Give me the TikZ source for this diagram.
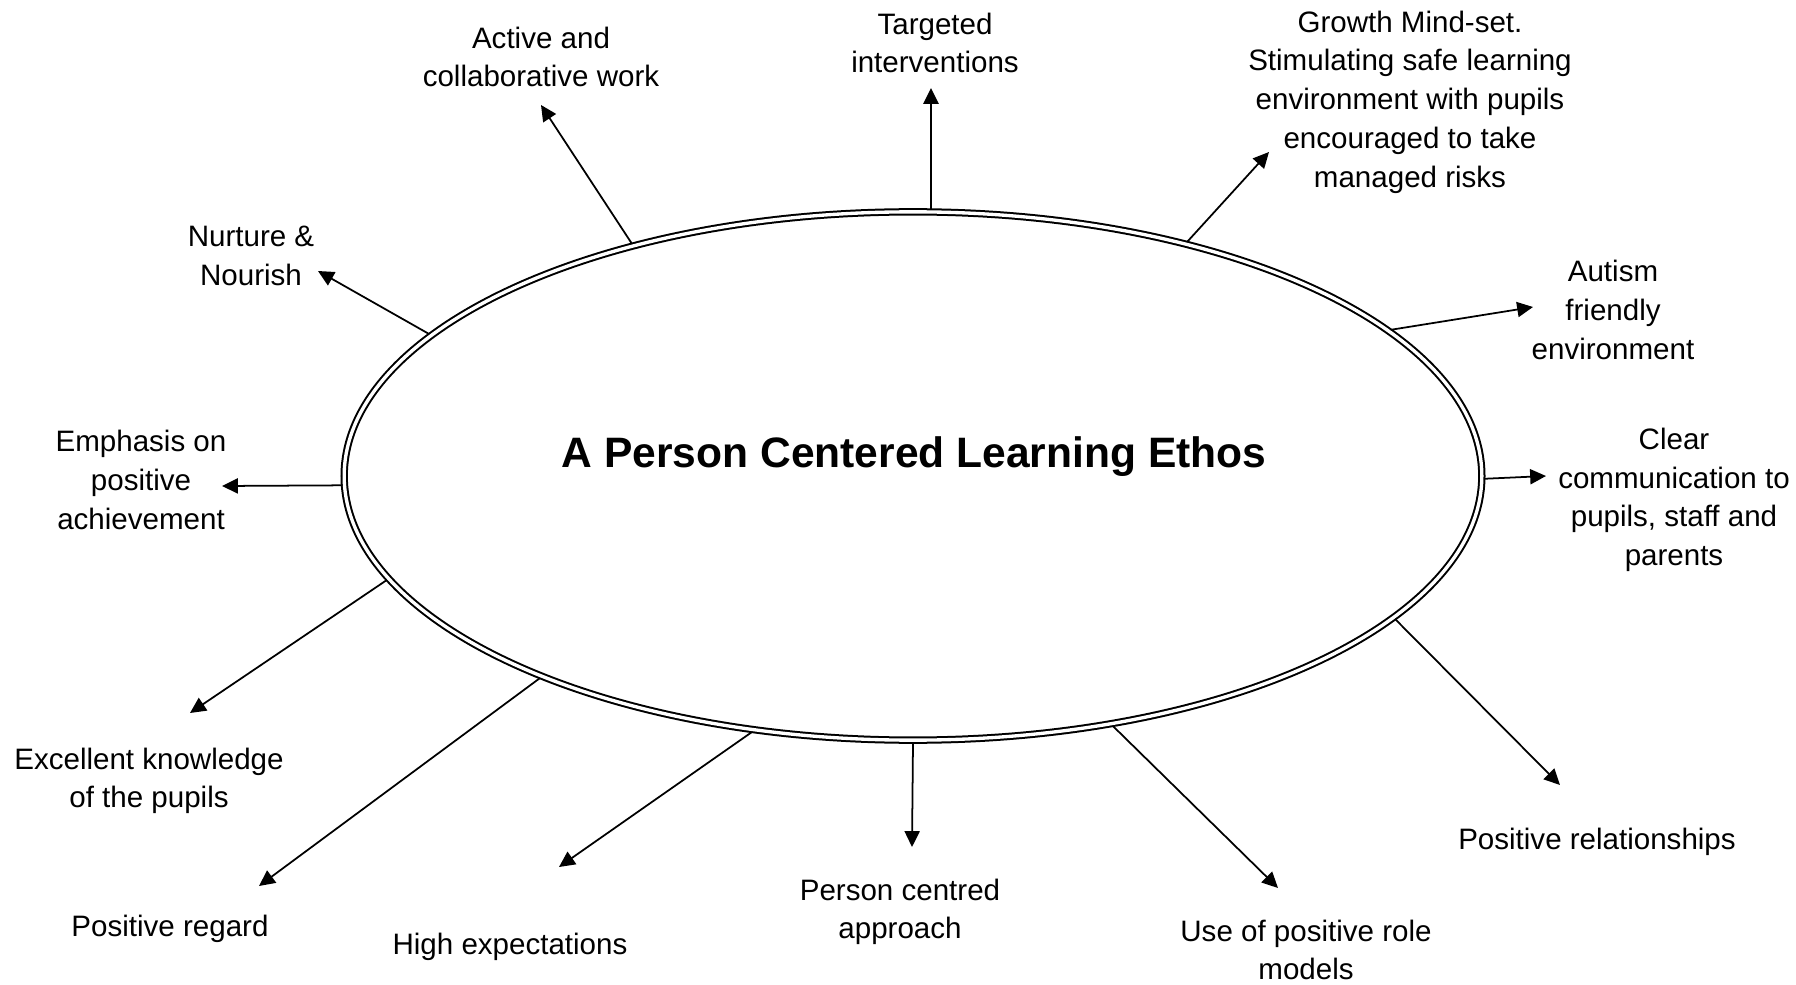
\documentclass[tikz,border=0pt]{standalone}
\usepackage{fontspec}
\setmainfont{Liberation Sans}
\usetikzlibrary{shapes.geometric}
\usetikzlibrary{arrows.meta}
\usetikzlibrary{calc}

\begin{document}
\begin{tikzpicture}[x = 0.01cm, y = -0.01cm]
    \tikzstyle{edge}=[draw,line width = .5pt,-{Triangle[length=4.5pt,width=4.3pt]},black!100]
    \tikzstyle{hub}=[draw,ellipse,double,line width = .57pt,double distance = .95pt,inner sep = 0pt,minimum width = 11.37cm,minimum height = 5.28cm]
    \tikzstyle{idea}=[align=center,inner sep = 0pt,font=\fontsize{8.4pt}{11pt}\selectfont]
    \useasboundingbox (0,0) rectangle (1796,985);
    % centre
    \node[hub] (ethos) at (913,476) {};
    \node[anchor=base,font=\bfseries\fontsize{12.1pt}{14pt}\selectfont] (title) at (914,467) {A Person Centered Learning Ethos};
    % labels round the ellipse
    \node[idea] (act) at (541,57) {Active and\\collaborative work};
    \node[idea] (tgt) at (935,43) {Targeted\\interventions};
    \node[idea] (grw) at (1410,102) {Growth Mind-set.\\Stimulating safe learning\\environment with pupils\\encouraged to take\\managed risks};
    \node[idea] (aut) at (1613,310) {Autism\\friendly\\environment};
    \node[idea] (clr) at (1674,500) {Clear\\communication to\\pupils, staff and\\parents};
    \node[idea] (rel) at (1597,842) {Positive relationships};
    \node[idea] (rol) at (1306,950) {Use of positive role\\models};
    \node[idea] (pca) at (900,912) {Person centred\\approach};
    \node[idea] (hex) at (510,947) {High expectations};
    \node[idea] (reg) at (170,929) {Positive regard};
    \node[idea] (knw) at (149,781) {Excellent knowledge\\of the pupils};
    \node[idea] (emp) at (141,480) {Emphasis on\\positive\\achievement};
    \node[idea] (nur) at (251,256) {Nurture \&\\Nourish};
    % arrow ends
    \coordinate (act-t) at (541,105);
    \coordinate (tgt-t) at (931,88);
    \coordinate (grw-t) at (1269,152);
    \coordinate (aut-t) at (1533,307);
    \coordinate (clr-t) at (1546,476);
    \coordinate (rel-t) at (1560,785);
    \coordinate (rol-t) at (1278,888);
    \coordinate (pca-t) at (912,847);
    \coordinate (hex-t) at (559,867);
    \coordinate (reg-t) at (259,886);
    \coordinate (knw-t) at (190,713);
    \coordinate (emp-t) at (222,486);
    \coordinate (nur-t) at (318,271);
    % arrows leave the outer line of the ellipse
    \def\rim{571 and 267}
    \draw[edge] ($(ethos.center)+(240.5:\rim)$) -- (act-t);
    \draw[edge] ($(ethos.center)+(-88.2:\rim)$) -- (tgt-t);
    \draw[edge] ($(ethos.center)+(-61.3:\rim)$) -- (grw-t);
    \draw[edge] ($(ethos.center)+(-33.2:\rim)$) -- (aut-t);
    \draw[edge] ($(ethos.center)+(0.6:\rim)$) -- (clr-t);
    \draw[edge] ($(ethos.center)+(32.4:\rim)$) -- (rel-t);
    \draw[edge] ($(ethos.center)+(69.5:\rim)$) -- (rol-t);
    \draw[edge] ($(ethos.center)+(90:\rim)$) -- (pca-t);
    \draw[edge] ($(ethos.center)+(106.4:\rim)$) -- (hex-t);
    \draw[edge] ($(ethos.center)+(130.8:\rim)$) -- (reg-t);
    \draw[edge] ($(ethos.center)+(157.1:\rim)$) -- (knw-t);
    \draw[edge] ($(ethos.center)+(178:\rim)$) -- (emp-t);
    \draw[edge] ($(ethos.center)+(212.1:\rim)$) -- (nur-t);
\end{tikzpicture}
\end{document}
